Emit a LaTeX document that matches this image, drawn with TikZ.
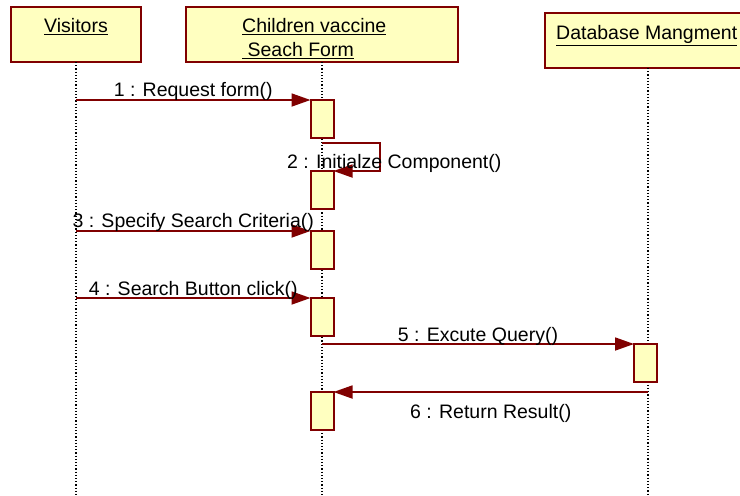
\documentclass[tikz,border=0pt]{standalone}
\usepackage{fontspec}
\setmainfont{Liberation Sans}
\definecolor{umlred}{RGB}{128, 0, 0}
\definecolor{umlyellow}{RGB}{255, 255, 192}
\usetikzlibrary{arrows.meta, positioning}
\newcommand{\seqfont}{\fontsize{19.5}{24}\selectfont}

\begin{document}
\begin{tikzpicture}[x=1pt, y=-1pt,
  obj/.style={draw=umlred, fill=umlyellow, line width=2pt, inner sep=0pt, outer sep=0pt},
  act/.style={draw=umlred, fill=umlyellow, line width=2pt, inner sep=0pt, outer sep=0pt,
    minimum width=23pt, minimum height=38pt},
  life/.style={dotted, line width=1.2pt},
  msg/.style={draw=umlred, line width=1.8pt, -{Triangle[length=19pt, width=13pt]}},
  lbl/.style={font=\seqfont, inner sep=0pt, text depth=0pt}]
  \useasboundingbox (0,0) rectangle (740,496);
  \coordinate (bottom) at (0,496);

  % objects
  \node[obj, anchor=north west, minimum width=130pt, minimum height=55pt] (visitors) at (11,7) {};
  \node[obj, anchor=north west, minimum width=272pt, minimum height=55pt] (form) at (186,7) {};
  \node[obj, anchor=north west, minimum width=206pt, minimum height=55pt] (db) at (545,13) {};
  \node[lbl, below=11pt of visitors.north] (visitorsTxt) {\underline{Visitors}};
  \node[lbl, align=left, below right=11pt and 56pt of form.north west] (formTxt)
    {\underline{Children vaccine}\\\underline{\ Seach Form}};
  \node[lbl, below right=12pt and 11pt of db.north west] (dbTxt) {\underline{Database Mangment}};

  % lifelines
  \draw[life] (visitors.south) -- (visitors.south |- bottom);
  \draw[life] (form.south) -- (form.south |- bottom);
  \draw[life] (db.south) -- (db.south |- bottom);

  % activations
  \node[act, below=38pt of form.south] (a1) {};
  \node[act, below=33pt of a1.south] (a2) {};
  \node[act, below=22pt of a2.south] (a3) {};
  \node[act, below=29pt of a3.south] (a4) {};
  \node[act, below=56pt of a4.south] (a6) {};
  \node[act, below=276pt of db.south, xshift=-2.5pt] (dbact) {};
  \coordinate[below=5pt of a1.south] (loop2);

  % messages
  \draw[msg] (visitors.south |- a1.north) -- (a1.north west)
    node[lbl, midway, above, inner ysep=3pt] {1 : Request form()};
  \draw[msg] (loop2) -- ++(58,0) |- (a2.north east);
  \node[lbl, anchor=base west] (lbl2) at (287,168) {2 : Initialze Component()};
  \draw[msg] (visitors.south |- a3.north) -- (a3.north west)
    node[lbl, midway, above, inner ysep=3pt] {3 : Specify Search Criteria()};
  \draw[msg] (visitors.south |- a4.north) -- (a4.north west)
    node[lbl, midway, above, inner ysep=2pt] {4 : Search Button click()};
  \draw[msg] (a4.south |- dbact.north) -- (dbact.north west)
    node[lbl, midway, above, inner ysep=2pt] {5 : Excute Query()};
  \draw[msg] (db.south |- a6.north) -- (a6.north east)
    node[lbl, midway, below, inner ysep=11pt] {6 : Return Result()};
\end{tikzpicture}
\end{document}
